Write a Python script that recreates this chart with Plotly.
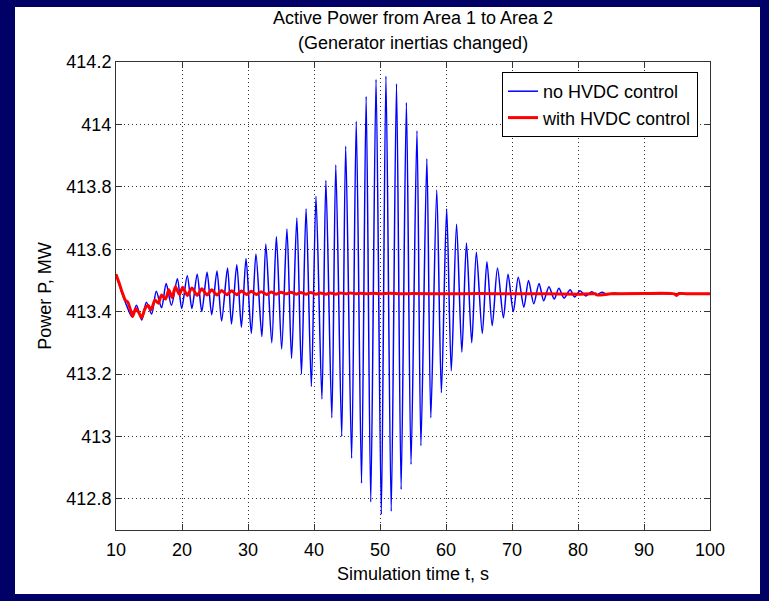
import plotly.graph_objects as go

# ---- data ----
x_ticks = [10, 20, 30, 40, 50, 60, 70, 80, 90, 100]
y_ticks = [412.8, 413.0, 413.2, 413.4, 413.6, 413.8, 414.0, 414.2]
y_tick_labels = ["412.8", "413", "413.2", "413.4", "413.6", "413.8", "414", "414.2"]

# no HVDC control: successive peaks / troughs of the oscillation (time s, MW)
t_no_hvdc = [10.0, 10.9, 11.6, 12.4, 13.1, 13.9, 14.6, 15.4, 16.1, 16.9, 17.6, 18.4, 19.3, 19.95,
             20.8, 21.5, 22.3, 23.0, 23.8, 24.5, 25.3, 26.0, 26.9, 27.5, 28.3, 29.0, 29.7, 30.5,
             31.2, 32.1, 32.7, 33.6, 34.3, 35.1, 35.9, 36.6, 37.4, 38.1, 38.8, 39.6, 40.3, 41.2,
             41.8, 42.7, 43.3, 44.2, 44.8, 45.7, 46.4, 47.2, 47.9, 48.6, 49.4, 50.2, 50.9, 51.7,
             52.5, 53.2, 54.0, 54.7, 55.6, 56.2, 57.1, 57.7, 58.6, 59.3, 60.1, 60.8, 61.6, 62.4,
             63.1, 63.9, 64.6, 65.5, 66.2, 67.0, 67.8, 68.7, 69.4, 70.2, 70.95, 71.8, 72.5, 73.3,
             74.1, 74.8, 75.6, 76.4, 77.1, 77.9, 78.8, 79.5, 80.3, 81.2, 82.1, 82.8, 83.6, 84.5,
             85.5, 86.5, 88.0, 90.0, 95.0, 100.0]
p_no_hvdc = [413.52, 413.46, 413.42, 413.384, 413.42, 413.373, 413.43, 413.392, 413.465, 413.412,
             413.49, 413.42, 413.505, 413.41, 413.515, 413.41, 413.52, 413.40, 413.526, 413.39,
             413.53, 413.37, 413.54, 413.36, 413.55, 413.35, 413.57, 413.33, 413.585, 413.32,
             413.617, 413.30, 413.64, 413.28, 413.665, 413.25, 413.70, 413.20, 413.73, 413.16,
             413.77, 413.12, 413.82, 413.06, 413.87, 413.00, 413.93, 412.93, 414.01, 412.85,
             414.09, 412.79, 414.145, 412.75, 414.155, 412.76, 414.13, 412.83, 414.07, 412.91,
             413.98, 412.97, 413.89, 413.06, 413.79, 413.14, 413.73, 413.21, 413.68, 413.27,
             413.62, 413.30, 413.59, 413.33, 413.56, 413.355, 413.54, 413.38, 413.52, 413.40,
             413.51, 413.414, 413.50, 413.425, 413.49, 413.435, 413.48, 413.44, 413.475, 413.443,
             413.47, 413.447, 413.467, 413.45, 413.464, 413.453, 413.462, 413.455, 413.46,
             413.456, 413.458, 413.457, 413.457, 413.457]

# with HVDC control
t_hvdc = [10.0, 10.5, 10.9, 11.4, 11.8, 12.2, 12.5, 13.0, 13.5, 13.9, 14.4, 14.9, 15.3, 15.9,
          16.4, 16.9, 17.5, 18.0, 18.5, 19.0, 19.6, 20.1, 20.8, 21.5, 22.3, 23.0, 23.8, 24.5,
          25.3, 26.0, 26.8, 27.5, 28.3, 29.0, 29.8, 30.5, 31.3, 32.0, 32.8, 33.5, 34.3, 35.0,
          35.8, 36.5, 37.3, 38.0, 38.8, 39.5, 40.3, 41.0, 41.8, 42.5, 43.3, 44.0, 44.8, 45.5,
          46.3, 47.0, 48.0, 49.0, 50.0, 51.5, 53.0, 55.0, 60.0, 65.0, 70.0, 75.0, 80.0, 82.6,
          82.9, 85.0, 90.0, 94.6, 94.9, 95.3, 97.0, 100.0]
p_hvdc = [413.52, 413.49, 413.464, 413.437, 413.43, 413.405, 413.384, 413.41, 413.395, 413.38,
          413.41, 413.42, 413.405, 413.437, 413.427, 413.453, 413.44, 413.47, 413.445, 413.48,
          413.455, 413.478, 413.452, 413.476, 413.452, 413.473, 413.453, 413.47, 413.453,
          413.468, 413.454, 413.467, 413.454, 413.466, 413.455, 413.465, 413.455, 413.464,
          413.455, 413.463, 413.456, 413.462, 413.457, 413.462, 413.456, 413.461, 413.456,
          413.461, 413.456, 413.460, 413.456, 413.460, 413.456, 413.460, 413.457, 413.460,
          413.457, 413.459, 413.457, 413.459, 413.457, 413.459, 413.457, 413.458, 413.457,
          413.458, 413.457, 413.457, 413.456, 413.457, 413.453, 413.457, 413.458, 413.457,
          413.452, 413.458, 413.457, 413.457]

FONT = "Liberation Sans, Arial, sans-serif"
FS = 18

fig = go.Figure()
fig.add_trace(go.Scatter(x=t_no_hvdc, y=p_no_hvdc, mode="lines", name="no HVDC control",
                         line=dict(color="#0000ff", width=1.5, shape="spline", smoothing=0.8)))
fig.add_trace(go.Scatter(x=t_hvdc, y=p_hvdc, mode="lines", name="with HVDC control",
                         line=dict(color="#ff0000", width=3, shape="spline", smoothing=0.6)))

W, H = 769, 601
L, R, T, B = 116, 59, 62, 71
pw, ph = W - L - R, H - T - B

def px(xp):
    return (xp - L) / pw

def py(yp):
    return (H - B - yp) / ph

fig.add_shape(type="rect", xref="paper", yref="paper", x0=px(15), x1=px(760), y0=py(594), y1=py(7),
              fillcolor="white", line=dict(width=0), layer="below")

axis_common = dict(showline=True, linecolor="#333333", linewidth=1, mirror="allticks",
                   ticks="inside", ticklen=6, tickcolor="#333333", showgrid=True,
                   gridcolor="#333333", gridwidth=1, griddash="1px,3px", zeroline=False,
                   automargin=False,
                   tickfont=dict(family=FONT, size=FS, color="black"))

fig.update_xaxes(range=[10, 100], tickvals=x_ticks, ticktext=[str(v) for v in x_ticks],
                 ticklabelstandoff=3,
                 title=dict(text="Simulation time t, s", font=dict(family=FONT, size=FS, color="black"),
                            standoff=8), **axis_common)
fig.update_yaxes(range=[412.7, 414.2], tickvals=y_ticks, ticktext=y_tick_labels,
                 title=dict(text="Power P, MW", font=dict(family=FONT, size=FS, color="black"),
                            standoff=10), **axis_common)

fig.add_annotation(text="Active Power from Area 1 to Area 2", xref="paper", yref="paper",
                   x=0.5, y=py(18), xanchor="center", yanchor="middle", showarrow=False,
                   font=dict(family=FONT, size=FS, color="black"))
fig.add_annotation(text="(Generator inertias changed)", xref="paper", yref="paper",
                   x=0.5, y=py(43), xanchor="center", yanchor="middle", showarrow=False,
                   font=dict(family=FONT, size=FS, color="black"))

fig.update_layout(
    width=W, height=H, margin=dict(l=L, r=R, t=T, b=B),
    paper_bgcolor="#000066", plot_bgcolor="white",
    showlegend=True,
    legend=dict(x=px(698), y=py(72), xanchor="right", yanchor="top", bgcolor="white",
                bordercolor="black", borderwidth=1, font=dict(family=FONT, size=FS, color="black"),
                tracegroupgap=0),
)

fig.write_html("out.html", config={"displayModeBar": False},
               post_script="document.body.style.margin='0';document.body.style.padding='0';"
                           "document.body.style.overflow='hidden';"
                           "document.body.style.background='#000066';")
